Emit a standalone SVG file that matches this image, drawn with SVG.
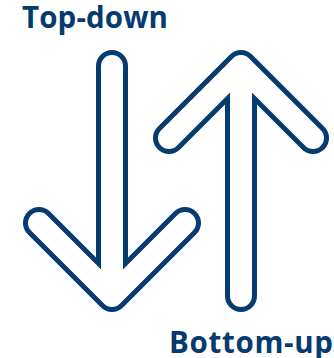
<svg xmlns="http://www.w3.org/2000/svg" width="334" height="358" viewBox="0 0 334 358">
  <style>
    .outer { fill: none; stroke: #063b70; stroke-width: 32; stroke-linecap: round; stroke-linejoin: round; }
    .inner { fill: none; stroke: #ffffff; stroke-width: 22; stroke-linecap: round; stroke-linejoin: round; }
    .label { font-family: "Open Sans", "Liberation Sans", sans-serif; font-weight: 700; font-size: 29.5px; fill: #063b70; }
  </style>
  <rect width="334" height="358" fill="#ffffff"/>
  <g id="top-down-arrow">
    <path class="outer" d="M112,66 V296 M39,223 L112,296 L185,223"/>
    <path class="inner" d="M112,66 V296 M39,223 L112,296 L185,223"/>
  </g>
  <g id="bottom-up-arrow">
    <path class="outer" d="M241,296 V66 M169,138 L241,66 L313,138"/>
    <path class="inner" d="M241,296 V66 M169,138 L241,66 L313,138"/>
  </g>
  <g id="top-down-label">
    <text class="label" x="22" y="28" textLength="146" lengthAdjust="spacing">Top-down</text>
  </g>
  <g id="bottom-up-label">
    <text class="label" x="169" y="353" textLength="164" lengthAdjust="spacing">Bottom-up</text>
  </g>
</svg>
